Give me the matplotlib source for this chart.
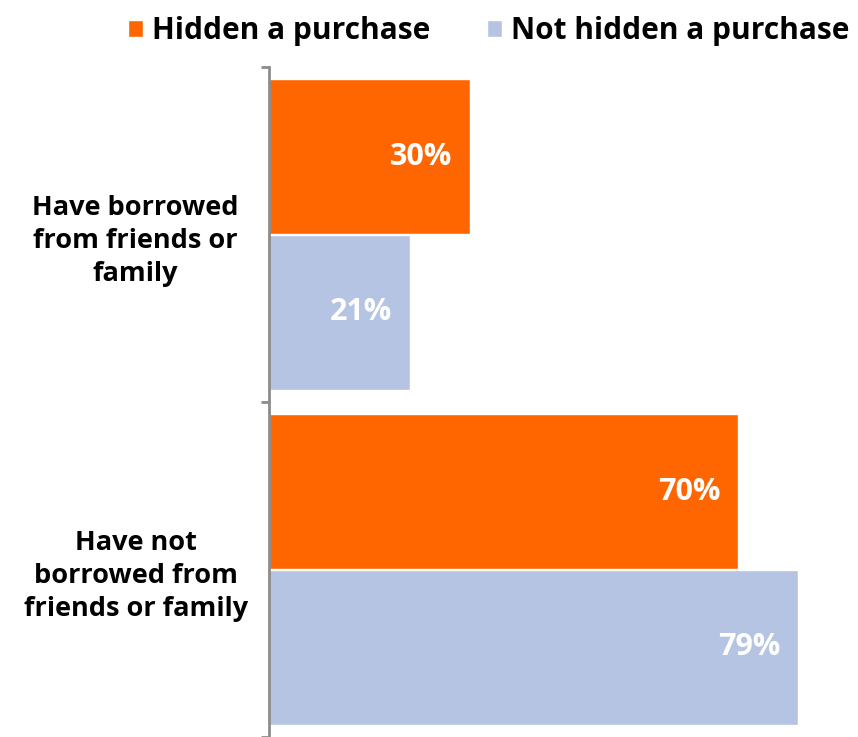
import matplotlib.pyplot as plt
import numpy as np

plt.rcParams['font.family'] = ['Open Sans', 'DejaVu Sans']

# Data
categories = ['Have borrowed\nfrom friends or\nfamily', 'Have not\nborrowed from\nfriends or family']
series_names = ['Hidden a purchase', 'Not hidden a purchase']
hidden = [0.30, 0.70]
not_hidden = [0.21, 0.79]
colors = ['#ff6600', '#b4c4e2']

fig = plt.figure(figsize=(8.58, 7.37), dpi=100)
ax = fig.add_axes([269 / 858, 0, (805 - 269) / 858, 670 / 737])

y = np.arange(len(categories))
h = 0.463
off = 0.232
b1 = ax.barh(y - off, hidden, height=h, color=colors[0], edgecolor='white', linewidth=1, label=series_names[0])
b2 = ax.barh(y + off, not_hidden, height=h, color=colors[1], edgecolor='white', linewidth=1, label=series_names[1])

for bars in (b1, b2):
    for bar in bars:
        w = bar.get_width()
        ax.text(w - 0.026, bar.get_y() + bar.get_height() / 2, f'{w * 100:.0f}%',
                ha='right', va='center', color='white', fontsize=22, fontweight='bold')

ax.set_xlim(0, 0.8)
ax.set_ylim(1.5, -0.5)

# category labels in the middle, tick marks at the group boundaries
ax.set_yticks(y)
ax.set_yticklabels(categories, fontsize=19.5, fontweight='bold', ha='center', linespacing=1.36)
ax.tick_params(axis='y', which='major', length=0, pad=96)
ax.set_yticks([-0.5, 0.5, 1.5], minor=True)
ax.tick_params(axis='y', which='minor', length=6, width=2, color='#8c8c8c', direction='out')
ax.set_xticks([])

for s in ['top', 'right', 'bottom']:
    ax.spines[s].set_visible(False)
ax.spines['left'].set_color('#8c8c8c')
ax.spines['left'].set_linewidth(2)

fig.legend(handles=[b1, b2], labels=series_names, loc='upper right', bbox_to_anchor=(1.021, 1.015),
           ncol=2, frameon=False, handlelength=0.5, handleheight=0.5, handletextpad=0.3,
           columnspacing=1.9, prop={'size': 21.5, 'weight': 'bold'})

fig.savefig('out.png', dpi=100)
